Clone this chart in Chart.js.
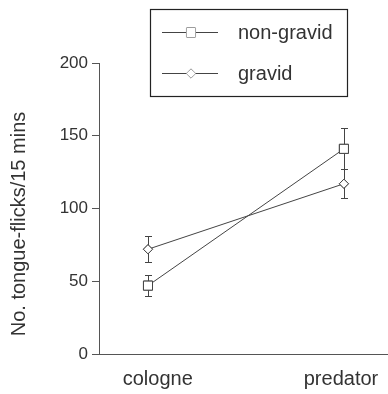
<!DOCTYPE html>
<html>
<head>
<meta charset="utf-8">
<script src="https://cdn.jsdelivr.net/npm/chart.js@4"></script>
<style>
  html, body { margin: 0; padding: 0; background: #fff; }
  #wrap { width: 388px; height: 394px; position: relative; }
</style>
</head>
<body>
<div id="wrap"><canvas id="chart"></canvas></div>
<script>
// data
const conditions = ['cologne', 'predator'];
const nonGravidMean = [47, 141];
const nonGravidErr = [7, 14];
const gravidMean = [72, 117];
const gravidErr = [9, 10];
const yTicks = [0, 50, 100, 150, 200];
const yTitle = 'No. tongue-flicks/15 mins';

const INK = '#444';
const FONT = '"Liberation Sans", Arial, sans-serif';

// error bars, markers redrawn on top
const errorBars = {
    id: 'errorBars',
    afterDatasetsDraw(chart) {
        const ctx = chart.ctx;
        const y = chart.scales.y;
        ctx.save();
        ctx.strokeStyle = INK;
        ctx.lineWidth = 1;
        chart.data.datasets.forEach((ds, di) => {
            const meta = chart.getDatasetMeta(di);
            meta.data.forEach((pt, i) => {
                const v = ds.data[i].y;
                const e = ds.errors[i];
                const top = Math.round(y.getPixelForValue(v + e)) + 0.5;
                const bot = Math.round(y.getPixelForValue(v - e)) + 0.5;
                const x = Math.round(pt.x) + 0.5;
                ctx.beginPath();
                ctx.moveTo(x, top);
                ctx.lineTo(x, bot);
                ctx.moveTo(x - 3.5, top);
                ctx.lineTo(x + 3.5, top);
                ctx.moveTo(x - 3.5, bot);
                ctx.lineTo(x + 3.5, bot);
                ctx.stroke();
            });
            meta.data.forEach(pt => pt.draw(ctx, chart.chartArea));
        });
        ctx.restore();
    }
};

// rotated y title, sitting a little below the plot centre like the original
const yAxisTitle = {
    id: 'yAxisTitle',
    afterDraw(chart) {
        const ctx = chart.ctx;
        ctx.save();
        ctx.translate(19, 224);
        ctx.rotate(-Math.PI / 2);
        ctx.fillStyle = '#333';
        ctx.font = '20px ' + FONT;
        ctx.textAlign = 'center';
        ctx.textBaseline = 'middle';
        ctx.fillText(yTitle, 0, 0);
        ctx.restore();
    }
};

// boxed legend with line + marker samples
const boxLegend = {
    id: 'boxLegend',
    afterDraw(chart) {
        const ctx = chart.ctx;
        ctx.save();
        ctx.fillStyle = '#fff';
        ctx.fillRect(150, 9, 198, 88);
        ctx.strokeStyle = '#222';
        ctx.lineWidth = 1.2;
        ctx.strokeRect(150.5, 9.5, 197, 87);
        const rows = [32, 73];
        chart.data.datasets.forEach((ds, i) => {
            const yy = rows[i] + 0.5;
            ctx.strokeStyle = INK;
            ctx.lineWidth = 1;
            ctx.beginPath();
            ctx.moveTo(162, yy);
            ctx.lineTo(218, yy);
            ctx.stroke();
            ctx.fillStyle = '#fff';
            Chart.helpers.drawPoint(ctx, {
                pointStyle: ds.pointStyle,
                radius: ds.pointRadius,
                borderWidth: 1
            }, 191, yy);
            ctx.fill();
            ctx.fillStyle = '#333';
            ctx.font = '20px ' + FONT;
            ctx.textBaseline = 'middle';
            ctx.textAlign = 'left';
            ctx.fillText(ds.label, 238, rows[i] + 1);
        });
        ctx.restore();
    }
};

const toPoints = arr => arr.map((v, i) => ({ x: i, y: v }));

new Chart(document.getElementById('chart'), {
    type: 'line',
    data: {
        datasets: [
            {
                label: 'non-gravid',
                data: toPoints(nonGravidMean),
                errors: nonGravidErr,
                borderColor: INK,
                borderWidth: 1,
                pointStyle: 'rect',
                pointRadius: 6.4,
                pointBorderWidth: 1,
                pointBackgroundColor: '#fff',
                pointBorderColor: INK
            },
            {
                label: 'gravid',
                data: toPoints(gravidMean),
                errors: gravidErr,
                borderColor: INK,
                borderWidth: 1,
                pointStyle: 'rectRot',
                pointRadius: 4.6,
                pointBorderWidth: 1,
                pointBackgroundColor: '#fff',
                pointBorderColor: INK
            }
        ]
    },
    options: {
        responsive: true,
        maintainAspectRatio: false,
        animation: false,
        layout: {
            autoPadding: false,
            padding: { top: 63, right: 0, bottom: 0, left: 0 }
        },
        plugins: {
            legend: { display: false },
            tooltip: { enabled: false }
        },
        scales: {
            x: {
                type: 'linear',
                min: -0.25,
                max: 1.225,
                // labels sit slightly off the points in the original
                afterBuildTicks: scale => {
                    scale.ticks = [{ value: 0.05 }, { value: 0.985 }];
                },
                afterFit: scale => {
                    scale.height = 40;
                    scale.paddingLeft = 0;
                    scale.paddingRight = 0;
                },
                grid: { display: false },
                border: { display: true, color: '#555', width: 1 },
                ticks: {
                    padding: 5,
                    color: '#333',
                    font: { family: FONT, size: 20 },
                    callback: (v, i) => conditions[i]
                }
            },
            y: {
                min: 0,
                max: 200,
                afterBuildTicks: scale => {
                    scale.ticks = yTicks.map(v => ({ value: v }));
                },
                afterFit: scale => { scale.width = 99; },
                grid: {
                    drawOnChartArea: false,
                    drawTicks: true,
                    tickLength: 7,
                    color: '#555'
                },
                border: { display: true, color: '#555', width: 1 },
                ticks: {
                    padding: 4,
                    color: '#333',
                    font: { family: FONT, size: 17 }
                },
                title: { display: false }
            }
        }
    },
    plugins: [errorBars, yAxisTitle, boxLegend]
});
</script>
</body>
</html>
